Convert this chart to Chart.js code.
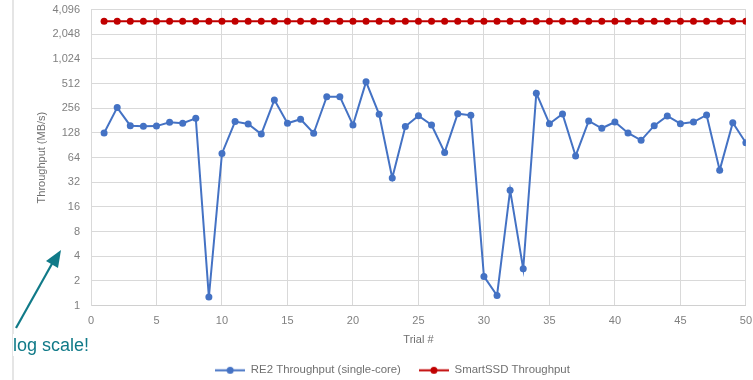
<!DOCTYPE html>
<html>
<head>
<meta charset="utf-8">
<script src="https://cdn.jsdelivr.net/npm/chart.js@4/dist/chart.umd.min.js"></script>
<style>
  html, body { margin: 0; padding: 0; background: #fff; }
  #wrap { position: relative; width: 753px; height: 380px; }
  #chart { position: absolute; left: 0; top: 0; }
  #note { position: absolute; left: 0; top: 0; pointer-events: none; }
  #label {
    position: absolute; left: 13px; top: 334px;
    font: 18px "Liberation Sans", Arial, sans-serif; color: #107a88;
    background: #fff; line-height: 22px;
  }
</style>
</head>
<body>
<div id="wrap">
  <canvas id="chart" width="753" height="380"></canvas>
  <svg id="note" width="753" height="380">
    <line x1="13" y1="0" x2="13" y2="380" stroke="#dcdcdc" stroke-width="1.5"/>
    <line x1="16" y1="328" x2="53" y2="262" stroke="#107a88" stroke-width="2.2"/>
    <polygon points="61,250 46,261 58,268" fill="#107a88"/>
  </svg>
  <div id="label">log scale!</div>
</div>
<script>
// trial numbers on the x axis
const trials = [1, 2, 3, 4, 5, 6, 7, 8, 9, 10,
  11, 12, 13, 14, 15, 16, 17, 18, 19, 20,
  21, 22, 23, 24, 25, 26, 27, 28, 29, 30,
  31, 32, 33, 34, 35, 36, 37, 38, 39, 40,
  41, 42, 43, 44, 45, 46, 47, 48, 49, 50]

// MB/s
const re2Throughput = [128, 261, 157, 154, 155, 173, 168, 193, 1.27, 72,
  176, 165, 124, 324, 168, 188, 127, 355, 355, 160,
  538, 216, 36, 153, 208, 160, 74, 220, 210, 2.27,
  1.33, 25.6, 2.81, 391, 166, 218, 67, 179, 146, 174,
  128, 104, 157, 206, 166, 174, 212, 45, 171, 97]

const smartSsdThroughput = [2950, 2950, 2950, 2950, 2950, 2950, 2950, 2950, 2950, 2950,
  2950, 2950, 2950, 2950, 2950, 2950, 2950, 2950, 2950, 2950,
  2950, 2950, 2950, 2950, 2950, 2950, 2950, 2950, 2950, 2950,
  2950, 2950, 2950, 2950, 2950, 2950, 2950, 2950, 2950, 2950,
  2950, 2950, 2950, 2950, 2950, 2950, 2950, 2950, 2950, 2950]

const yTicks = [1, 2, 4, 8, 16, 32, 64, 128, 256, 512, 1024, 2048, 4096]

const BLUE = "#4472c4"
const RED = "#c00000"
const FONT = "'Liberation Sans', Arial, sans-serif"

// excel-style legend marker: short line with a dot in the middle
function legendMarker(color) {
  const c = document.createElement("canvas")
  c.width = 30
  c.height = 9
  const ctx = c.getContext("2d")
  ctx.strokeStyle = color
  ctx.lineWidth = 2
  ctx.beginPath()
  ctx.moveTo(0, 4.5)
  ctx.lineTo(30, 4.5)
  ctx.stroke()
  ctx.fillStyle = color
  ctx.beginPath()
  ctx.arc(15, 4.5, 3.5, 0, Math.PI * 2)
  ctx.fill()
  return c
}

// the original legend sits a bit right of the canvas centre
const nudgeLegend = {
  id: "nudgeLegend",
  afterLayout(chart) {
    chart.legend.left += 16
    chart.legend.right += 16
  }
}

const toPoints = (ys) => trials.map((t, i) => ({ x: t, y: ys[i] }))

new Chart(document.getElementById("chart"), {
  type: "line",
  data: {
    datasets: [
      {
        label: "RE2 Throughput (single-core)",
        data: toPoints(re2Throughput),
        borderColor: BLUE,
        backgroundColor: BLUE,
        borderWidth: 2,
        pointRadius: 3.5,
        pointBorderWidth: 0,
        marker: legendMarker(BLUE)
      },
      {
        label: "SmartSSD Throughput",
        data: toPoints(smartSsdThroughput),
        borderColor: RED,
        backgroundColor: RED,
        borderWidth: 2,
        pointRadius: 3.5,
        pointBorderWidth: 0,
        marker: legendMarker(RED)
      }
    ]
  },
  plugins: [nudgeLegend],
  options: {
    responsive: false,
    animation: false,
    layout: { padding: { left: 0, right: 0, top: 0, bottom: -6 } },
    plugins: {
      tooltip: { enabled: false },
      legend: {
        position: "bottom",
        labels: {
          usePointStyle: true,
          pointStyleWidth: 30,
          padding: 18,
          color: "#707070",
          font: { family: FONT, size: 11.4 },
          generateLabels: (chart) => chart.data.datasets.map((ds, i) => ({
            text: ds.label,
            pointStyle: ds.marker,
            fillStyle: ds.borderColor,
            strokeStyle: ds.borderColor,
            lineWidth: 0,
            fontColor: "#707070",
            datasetIndex: i
          }))
        }
      }
    },
    scales: {
      x: {
        type: "linear",
        min: 0,
        max: 50,
        ticks: { stepSize: 5, padding: 1, color: "#808080", font: { family: FONT, size: 11 } },
        grid: { color: "#d9d9d9", tickLength: 8, tickColor: "rgba(0,0,0,0)" },
        border: { color: "#d0d0d0" },
        title: {
          display: true,
          text: "Trial #",
          color: "#707070",
          font: { family: FONT, size: 11 },
          padding: { top: 0, bottom: 0 }
        },
        afterFit: (scale) => { scale.height = 41 }
      },
      y: {
        type: "logarithmic",
        min: 1,
        max: 4096,
        afterBuildTicks: (scale) => { scale.ticks = yTicks.map((v) => ({ value: v })) },
        ticks: {
          padding: 3,
          color: "#808080",
          font: { family: FONT, size: 11 },
          callback: (v) => Number(v).toLocaleString("en-US")
        },
        grid: { color: "#d9d9d9", tickLength: 8, tickColor: "rgba(0,0,0,0)" },
        border: { color: "#d9d9d9" },
        title: {
          display: true,
          text: "Throughput (MB/s)",
          color: "#707070",
          font: { family: FONT, size: 11 },
          padding: { top: 35, bottom: 0 }
        },
        afterFit: (scale) => { scale.width = 91 }
      }
    }
  }
})
</script>
</body>
</html>
